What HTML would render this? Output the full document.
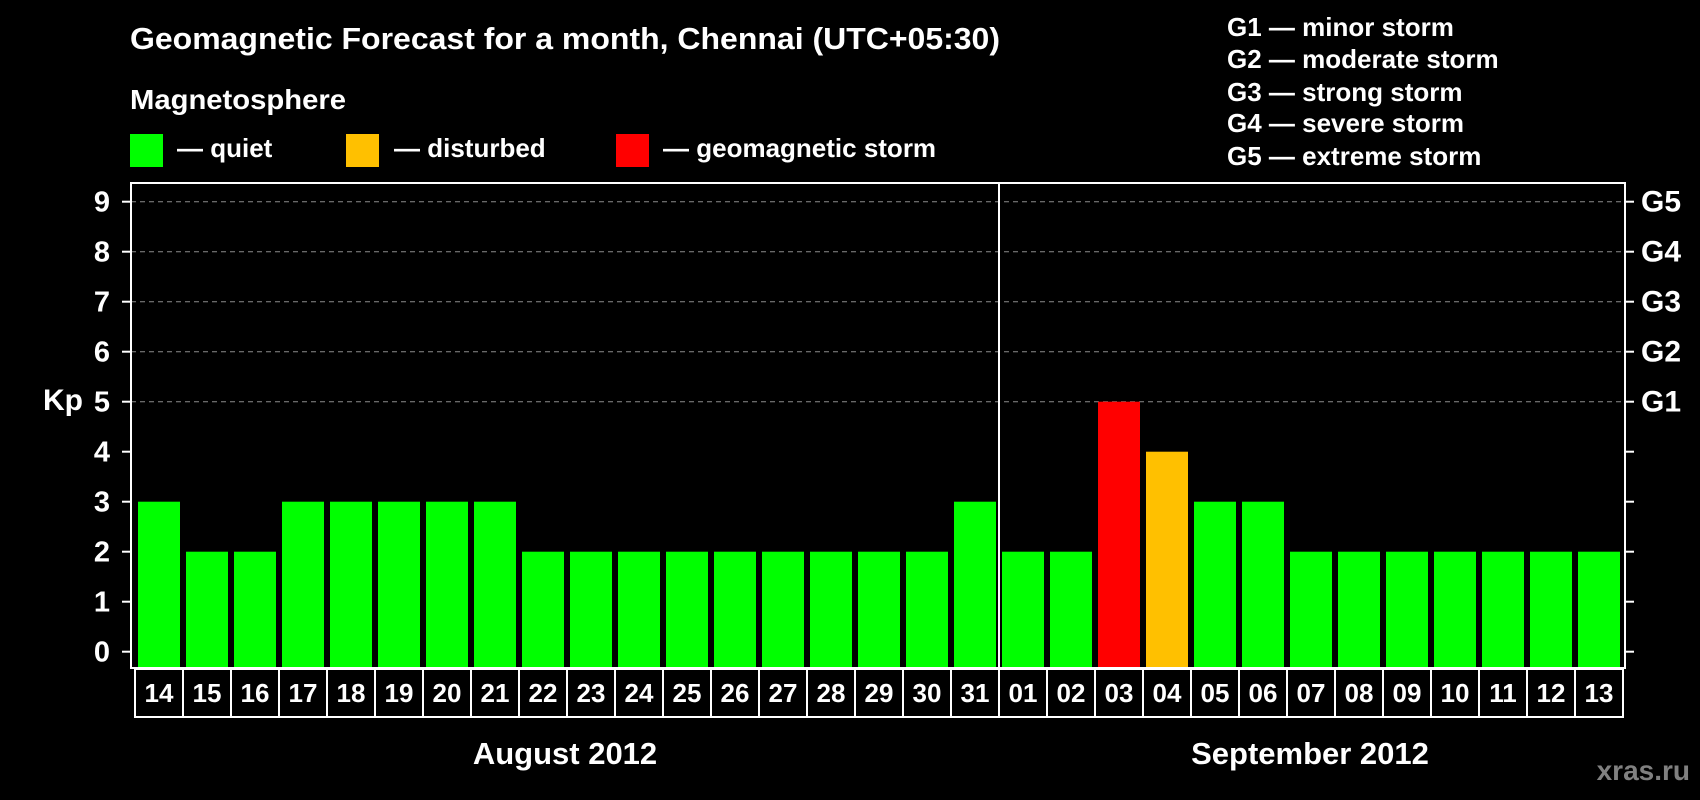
<!DOCTYPE html>
<html><head><meta charset="utf-8"><style>
html,body{margin:0;padding:0;background:#000;}
svg{display:block;font-family:"Liberation Sans",Arial,sans-serif;font-weight:bold;}
</style></head><body>
<svg id="chart" width="1700" height="800" viewBox="0 0 1700 800" xmlns="http://www.w3.org/2000/svg">
<rect width="1700" height="800" fill="#000"/>
<text x="130" y="49" fill="#fff" font-size="31" textLength="870" lengthAdjust="spacingAndGlyphs">Geomagnetic Forecast for a month, Chennai (UTC+05:30)</text>
<text x="130" y="109" fill="#fff" font-size="28" textLength="216" lengthAdjust="spacingAndGlyphs">Magnetosphere</text>
<g><rect x="130" y="134" width="33" height="33" fill="#00ff00"/><text x="177" y="157" fill="#fff" font-size="26">— quiet</text></g>
<g><rect x="346" y="134" width="33" height="33" fill="#ffc000"/><text x="394" y="157" fill="#fff" font-size="26">— disturbed</text></g>
<g><rect x="616" y="134" width="33" height="33" fill="#ff0000"/><text x="663" y="157" fill="#fff" font-size="26">— geomagnetic storm</text></g>
<g fill="#fff" font-size="26">
<text x="1227" y="36">G1 — minor storm</text>
<text x="1227" y="68">G2 — moderate storm</text>
<text x="1227" y="101">G3 — strong storm</text>
<text x="1227" y="132">G4 — severe storm</text>
<text x="1227" y="165">G5 — extreme storm</text>
</g>
<text x="43" y="410" fill="#fff" font-size="30">Kp</text>
<g id="grid"></g>
<g id="bars"></g>
<g id="axes"></g>
<text x="565" y="764" fill="#fff" font-size="31" text-anchor="middle">August 2012</text>
<text x="1310" y="764" fill="#fff" font-size="31" text-anchor="middle">September 2012</text>
<text x="1690" y="780" fill="#808080" font-size="28" text-anchor="end">xras.ru</text>
</svg>
<script>
const days = ["14","15","16","17","18","19","20","21","22","23","24","25","26","27","28","29","30","31","01","02","03","04","05","06","07","08","09","10","11","12","13"];
const kpValues = [3,2,2,3,3,3,3,3,2,2,2,2,2,2,2,2,2,3,2,2,5,4,3,3,2,2,2,2,2,2,2];
const yTicks = [0,1,2,3,4,5,6,7,8,9];
const gLabels = ["G1","G2","G3","G4","G5"];
const gLevels = [5,6,7,8,9];
const gridLevels = [5,6,7,8,9];
const splitIndex = 18;

const NS="http://www.w3.org/2000/svg";
const L=131,R=1625,T=183,B=668;
const y0=651.7, unit=50;
const n=days.length;
const barStart=138, pitch=(1578-138)/(n-1), barW=42;
function yScale(v){return y0-v*unit;}
function xScale(i){return barStart+i*pitch;}
function mk(tag,attrs,parent){const e=document.createElementNS(NS,tag);for(const k in attrs)e.setAttribute(k,attrs[k]);parent.appendChild(e);return e;}
function color(v){return v>=5?"#ff0000":(v>=4?"#ffc000":"#00ff00");}

const grid=document.getElementById('grid'), bars=document.getElementById('bars'), axes=document.getElementById('axes');
gridLevels.forEach(v=>{
  const l=mk('line',{x1:L,x2:R,y1:yScale(v),y2:yScale(v),stroke:'#8c8c8c','stroke-width':1,'stroke-dasharray':'5,4'},grid);
  
  
});
kpValues.forEach((v,i)=>{
  const r=mk('rect',{x:xScale(i),y:yScale(v),width:barW,height:B-yScale(v),fill:color(v)},bars);
  
  
});
const frame=mk('rect',{x:L,y:T,width:R-L,height:B-T,fill:'none',stroke:'#fff','stroke-width':2},axes);


const sx=(xScale(splitIndex-1)+barW+xScale(splitIndex))/2;
const sep=mk('line',{x1:sx,x2:sx,y1:T,y2:B,stroke:'#fff','stroke-width':2},axes);


yTicks.forEach(v=>{
  const y=yScale(v);
  const t=mk('line',{x1:L-9,x2:L,y1:y,y2:y,stroke:'#fff','stroke-width':2},axes);
  
  
  const t2=mk('line',{x1:R,x2:R+9,y1:y,y2:y,stroke:'#fff','stroke-width':2},axes);
  
  
  const tx=mk('text',{x:110,y:y+10,fill:'#fff','font-size':29,'text-anchor':'end'},axes);
  tx.textContent=v;
  
  
});
gLabels.forEach((g,i)=>{
  const tx=mk('text',{x:1641,y:yScale(gLevels[i])+10,fill:'#fff','font-size':30},axes);
  tx.textContent=g;
  
  
});
const bx0=135, bw=(1623-135)/n;
days.forEach((d,i)=>{
  const r=mk('rect',{x:bx0+i*bw,y:669,width:bw,height:48,fill:'#000',stroke:'#fff','stroke-width':2},axes);
  
  
  const tx=mk('text',{x:bx0+i*bw+bw/2,y:702,fill:'#fff','font-size':26,'text-anchor':'middle'},axes);
  tx.textContent=d;
  
  
});
</script>
</body></html>
